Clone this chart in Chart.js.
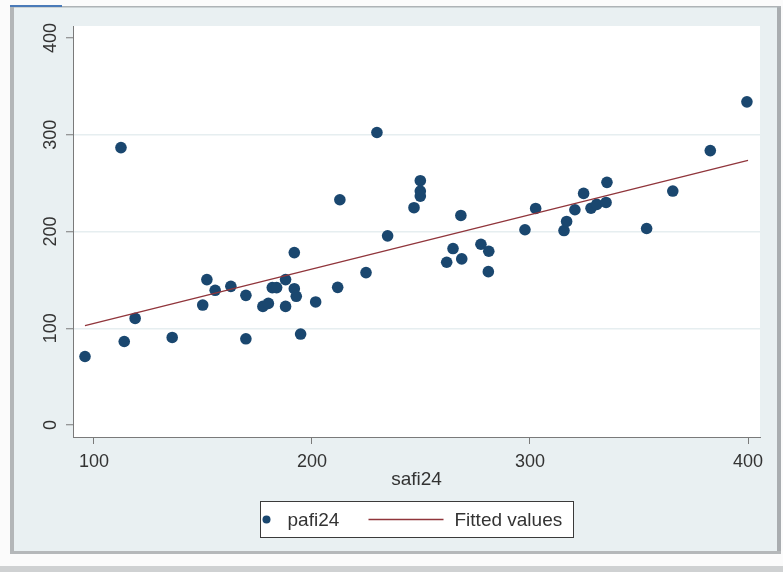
<!DOCTYPE html>
<html><head><meta charset="utf-8">
<script src="https://cdn.jsdelivr.net/npm/chart.js@4/dist/chart.umd.min.js"></script>
<style>html,body{margin:0;padding:0;background:#fff;overflow:hidden}#wrap{width:783px;height:572px;position:relative}canvas{display:block}</style>
</head><body><div id="wrap"><canvas id="c" width="783" height="572"></canvas></div>
<script>
// ---- data ----
const safi24 = [95.9,112.4,113.9,118.9,135.9,149.9,151.8,155.6,162.8,169.7,169.7,177.5,180.0,181.8,183.8,187.9,187.9,191.9,191.9,192.8,194.8,201.7,211.8,212.8,224.8,229.8,234.7,246.8,249.7,249.7,249.7,261.8,264.7,268.3,268.7,277.5,281.1,280.9,297.7,302.6,315.6,316.8,320.6,324.6,328.0,330.6,334.9,335.3,353.5,365.5,382.7,399.5];
const pafi24 = [70.8,286.7,86.3,110.2,90.5,124.0,150.3,139.2,143.3,134.0,89.1,122.6,125.7,142.0,142.0,150.3,122.6,178.2,140.9,133.0,94.0,127.2,142.3,232.8,157.5,302.3,195.5,224.6,252.5,241.8,236.6,168.2,182.4,216.6,171.7,186.8,179.6,158.5,201.8,223.8,201.0,210.4,222.5,239.4,224.1,228.0,230.0,250.8,203.1,241.8,283.6,334.0];
const fittedX = [95.9, 400.0];
const fittedY = [102.6, 273.6];
const xTicks = [100, 200, 300, 400];
const yTicks = [0, 100, 200, 300, 400];
const xTitle = 'safi24';
const seriesNames = ['pafi24', 'Fitted values'];

const NAVY = '#1a476f', MAROON = '#90353b', AXIS = '#7a7a7a', TEXT = '#333333';
const FONT = '"Liberation Sans", Arial, sans-serif';

const framePlugin = {
  id: 'frame',
  beforeDraw(chart) {
    const ctx = chart.ctx, a = chart.chartArea;
    ctx.save();
    ctx.fillStyle = '#fbfbfb'; ctx.fillRect(0, 0, 783, 572);
    ctx.fillStyle = '#e9f0f2'; ctx.fillRect(10, 6, 771, 548);
    ctx.fillStyle = '#b3b6b8'; ctx.fillRect(10, 6, 4, 548);
    ctx.fillStyle = '#a9adb0'; ctx.fillRect(777, 6, 4, 548);
    ctx.fillStyle = '#b5b8ba'; ctx.fillRect(10, 551, 771, 3);
    ctx.fillStyle = '#aeb3b6'; ctx.fillRect(10, 6, 771, 1.5);
    ctx.fillStyle = '#4a7ab8'; ctx.fillRect(10, 5, 52, 2);
    ctx.fillStyle = '#cfd1d2'; ctx.fillRect(0, 566, 783, 6);
    ctx.fillStyle = '#ffffff'; ctx.fillRect(a.left, a.top, a.right - a.left, a.bottom - a.top);
    ctx.restore();
  },
  afterDraw(chart) {
    const ctx = chart.ctx, a = chart.chartArea, ys = chart.scales.y;
    ctx.save();
    // rotated y tick labels
    ctx.font = '18px ' + FONT; ctx.fillStyle = TEXT;
    ctx.textAlign = 'center'; ctx.textBaseline = 'middle';
    yTicks.forEach(v => {
      const py = ys.getPixelForValue(v);
      ctx.save(); ctx.translate(a.left - 22, py); ctx.rotate(-Math.PI / 2);
      ctx.fillText(String(v), 0, 0); ctx.restore();
    });
    // legend
    const cx = (a.left + a.right) / 2;
    const bw = 313, bh = 36, bx = Math.round(cx - bw / 2) + 0.5, by = 501.5;
    ctx.fillStyle = '#ffffff'; ctx.fillRect(bx, by, bw, bh);
    ctx.strokeStyle = '#3a3a3a'; ctx.lineWidth = 1; ctx.strokeRect(bx, by, bw, bh);
    const ly = by + bh / 2;
    const ds = chart.data.datasets;
    ctx.font = '19px ' + FONT; ctx.textAlign = 'left'; ctx.fillStyle = TEXT;
    ctx.beginPath(); ctx.fillStyle = ds[0].backgroundColor; ctx.arc(bx + 6, ly, 4, 0, Math.PI * 2); ctx.fill();
    ctx.fillStyle = TEXT; ctx.fillText(ds[0].label, bx + 27, ly + 1);
    ctx.strokeStyle = ds[1].borderColor; ctx.lineWidth = 1.3;
    ctx.beginPath(); ctx.moveTo(bx + 108, ly); ctx.lineTo(bx + 183, ly); ctx.stroke();
    ctx.fillText(ds[1].label, bx + 194, ly + 1);
    ctx.restore();
  }
};

new Chart(document.getElementById('c'), {
  type: 'scatter',
  data: {
    datasets: [
      {
        label: seriesNames[0],
        data: safi24.map((x, i) => ({ x: x, y: pafi24[i] })),
        backgroundColor: NAVY, borderColor: NAVY,
        pointRadius: 5.8, pointBorderWidth: 0, pointHoverRadius: 5.8,
        order: 2
      },
      {
        type: 'line',
        label: seriesNames[1],
        data: fittedX.map((x, i) => ({ x: x, y: fittedY[i] })),
        borderColor: MAROON, backgroundColor: MAROON,
        borderWidth: 1.3, pointRadius: 0, fill: false, tension: 0,
        order: 1
      }
    ]
  },
  options: {
    responsive: false, animation: false, devicePixelRatio: 1,
    layout: { padding: { left: 0, top: 26, right: 23, bottom: 81 } },
    plugins: { legend: { display: false }, tooltip: { enabled: false } },
    scales: {
      x: {
        type: 'linear', min: 90.4, max: 405.5,
        afterBuildTicks: s => { s.ticks = xTicks.map(v => ({ value: v })); },
        afterFit: s => { s.height = 54; },
        ticks: { font: { size: 18, family: FONT }, color: TEXT, padding: 7, maxRotation: 0, autoSkip: false },
        grid: { drawOnChartArea: false, drawTicks: true, tickLength: 7, tickColor: AXIS, tickWidth: 1 },
        border: { display: true, color: AXIS, width: 1 },
        title: { display: true, text: xTitle, font: { size: 19, family: FONT }, color: TEXT, padding: { top: 0, bottom: 0 } }
      },
      y: {
        type: 'linear', min: -12.4, max: 412.4,
        afterBuildTicks: s => { s.ticks = yTicks.map(v => ({ value: v })); },
        afterFit: s => { s.width = 73; },
        ticks: { display: false },
        grid: {
          color: c => (c.tick && c.tick.value > 0 && c.tick.value < 400) ? '#e6eef0' : 'rgba(0,0,0,0)',
          lineWidth: 1.5, drawTicks: true, tickLength: 7, tickColor: AXIS, tickWidth: 1
        },
        border: { display: true, color: AXIS, width: 1 }
      }
    }
  },
  plugins: [framePlugin]
});
</script>
</body></html>
